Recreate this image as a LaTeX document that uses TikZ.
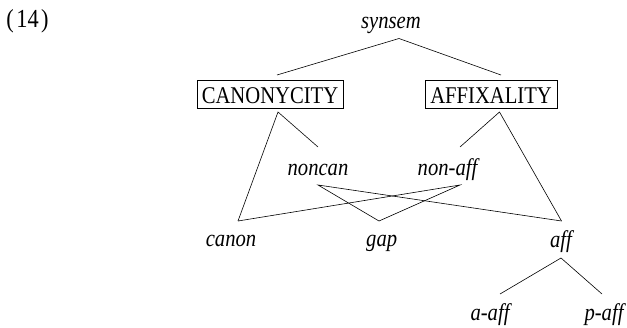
\documentclass[tikz,border=0pt]{standalone}
\usepackage{fontspec}
\setmainfont[FakeStretch=0.86]{Liberation Serif}
\begin{document}
\begin{tikzpicture}[x=1pt,y=-1pt,
  every node/.style={inner sep=0pt, font=\fontsize{24}{28}\selectfont},
  lbl/.style={anchor=base, font=\fontsize{24}{28}\selectfont\itshape},
  feat/.style={draw, line width=0.6pt, anchor=west, inner xsep=5pt, inner ysep=3pt, text height=20.5pt, text depth=1.5pt},
  edge/.style={line width=0.6pt}]
\useasboundingbox (0,0) rectangle (627,327);
\node[anchor=base west, font=\fontsize{26}{30}\selectfont] (num) at (6.2,27.3) {(\kern2.5pt 14\kern2.5pt)};
% labels
\node[lbl] (synsem) at (391,28.3) {synsem};
\node[feat] (canty) at (196.5,94) {CANONYCITY};
\node[feat] (affty) at (425,94) {AFFIXALITY};
\node[lbl] (noncan) at (318,175) {noncan};
\node[lbl] (nonaff) at (447.5,175) {non-aff};
\node[lbl] (canon) at (231,246.7) {canon};
\node[lbl] (gap) at (381.7,246.7) {gap};
\node[lbl] (aff) at (561,247.5) {aff};
\node[lbl] (aaff) at (490,320) {a-aff};
\node[lbl] (paff) at (604,320) {p-aff};
% attachment points
\coordinate (synsem-b) at (399,38.5);
\coordinate (canty-t) at (277,75);
\coordinate (affty-t) at (501,75);
\coordinate (canty-b) at (278,112);
\coordinate (affty-b) at (499.5,112);
\coordinate (noncan-t) at (318,147);
\coordinate (nonaff-t) at (460,147);
\coordinate (noncan-b) at (318,185);
\coordinate (nonaff-b) at (460,185);
\coordinate (canon-t) at (238,221);
\coordinate (gap-t) at (379,221);
\coordinate (aff-t) at (561.5,221);
\coordinate (aff-b) at (561,258);
\coordinate (aaff-t) at (500,294);
\coordinate (paff-t) at (602,294);
% connectors
\draw[edge] (canty-t) -- (synsem-b) -- (affty-t);
\draw[edge] (canon-t) -- (canty-b) -- (noncan-t);
\draw[edge] (nonaff-t) -- (affty-b) -- (aff-t);
\draw[edge] (gap-t) -- (noncan-b) -- (aff-t);
\draw[edge] (canon-t) -- (nonaff-b) -- (gap-t);
\draw[edge] (aaff-t) -- (aff-b) -- (paff-t);
\end{tikzpicture}
\end{document}
